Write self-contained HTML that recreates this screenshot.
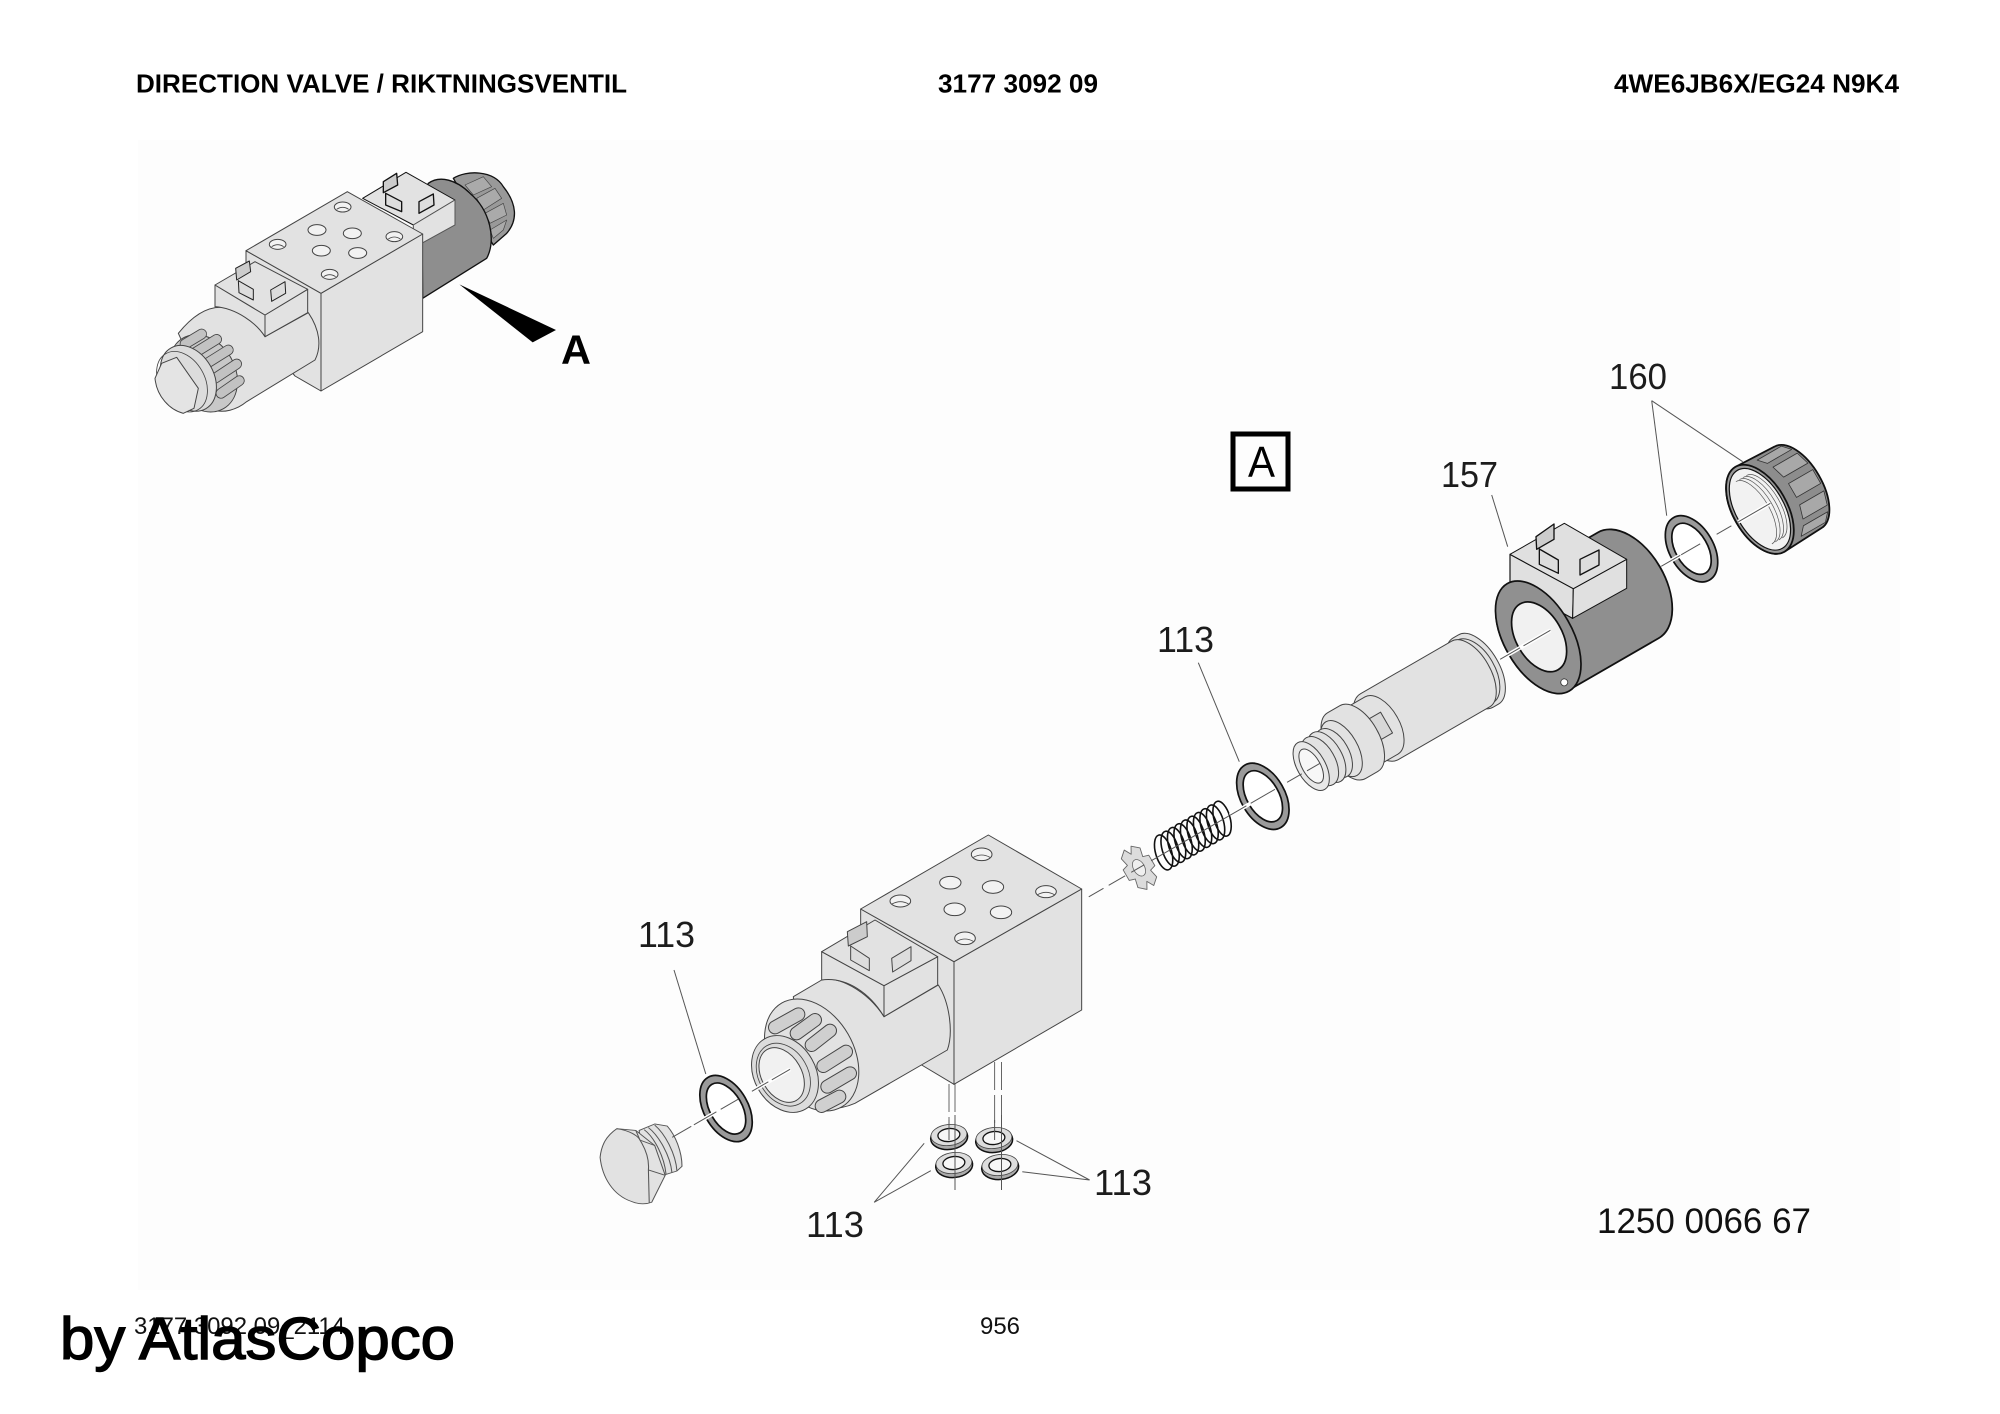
<!DOCTYPE html>
<html><head><meta charset="utf-8"><title>Direction valve</title>
<style>html,body{margin:0;padding:0;background:#fff}svg{display:block}
text{font-family:"Liberation Sans",sans-serif}</style></head>
<body>
<svg xmlns="http://www.w3.org/2000/svg" width="2000" height="1414" viewBox="0 0 2000 1414">
<rect width="2000" height="1414" fill="#fff"/>
<rect x="138" y="140" width="1762" height="1150" fill="#fdfdfd"/>

<!-- small valve -->
<g transform="translate(120,130) scale(.33333)" stroke-linejoin="round">
<path d="M1000,145 C1040,120 1120,120 1150,170 C1190,220 1195,270 1160,310 L1120,345 L1060,250 Z" fill="#999" stroke="#111" stroke-width="4"/>
<g fill="#aaa" stroke="#444" stroke-width="2"><path d="M1035,165 1090,140 1115,170 1060,195Z"/><path d="M1070,205 1125,175 1145,205 1090,240Z"/><path d="M1095,250 1150,220 1160,255 1110,280Z"/><path d="M1110,300 1160,270 1150,300 1120,325Z"/></g>
<path d="M905,200 L925,160 C960,135 1010,150 1050,190 C1110,240 1130,330 1100,385 L908,505 Z" fill="#8e8e8e" stroke="#111" stroke-width="4"/>
<g fill="#e2e2e2" stroke="#111" stroke-width="3">
<path d="M728,205 858,127 1005,210 880,285Z"/><path d="M880,285 1005,210 1005,285 905,340 880,300Z" stroke="#555"/>
<path d="M790,155 830,130 833,165 790,188Z" fill="#ccc" stroke-width="4"/><path d="M797,190 845,215 845,245 797,225Z" fill="#ddd" stroke-width="4"/><path d="M897,215 940,192 942,225 897,250Z" fill="#ddd" stroke-width="4"/>
</g>
<g fill="#e2e2e2" stroke="#444" stroke-width="3">
<path d="M378,362 603,490 603,783 525,738 378,560Z"/>
<path d="M603,490 908,312 908,605 603,783Z"/>
<path d="M378,362 682,185 908,312 603,490Z"/>
</g>
<g fill="#f2f2f2" stroke="#444" stroke-width="3">
<ellipse cx="668" cy="231" rx="25" ry="15"/><ellipse cx="591" cy="300" rx="27" ry="16"/><ellipse cx="697" cy="310" rx="27" ry="16"/><ellipse cx="823" cy="320" rx="25" ry="15"/><ellipse cx="473" cy="343" rx="25" ry="15"/><ellipse cx="604" cy="362" rx="27" ry="16"/><ellipse cx="713" cy="369" rx="27" ry="16"/><ellipse cx="629" cy="433" rx="25" ry="15"/>
</g>
<g fill="none" stroke="#444" stroke-width="2.5"><path d="M650,238 Q668,226 686,238"/><path d="M805,327 Q823,315 841,327"/><path d="M455,350 Q473,338 491,350"/><path d="M611,440 Q629,428 647,440"/></g>
<path d="M175,610 C215,560 260,528 310,532 C350,535 410,580 435,620 L565,548 C600,600 605,650 585,690 L380,815 C350,840 310,850 280,840 Z" fill="#e2e2e2" stroke="#444" stroke-width="3"/>
<g fill="#e2e2e2" stroke="#444" stroke-width="3">
<path d="M285,465 435,555 435,620 C410,580 350,535 285,530Z"/>
<path d="M435,555 563,478 563,548 435,620Z"/>
<path d="M285,465 405,395 563,478 435,555Z"/>
<path d="M347,415 388,393 392,425 350,450Z" fill="#ccc" stroke="#222"/><path d="M355,452 400,478 400,510 357,488Z" fill="#ddd" stroke="#222"/><path d="M452,480 495,455 497,490 455,514Z" fill="#ddd" stroke="#222"/>
</g>
<ellipse cx="250" cy="730" rx="122" ry="95" transform="rotate(60 250 730)" fill="#c8c8c8" stroke="#444" stroke-width="3"/>
<g stroke-linecap="round" fill="none">
<g stroke="#444" stroke-width="32"><path d="M195,642 245,612"/><path d="M225,668 290,628"/><path d="M258,702 325,660"/><path d="M285,745 350,702"/><path d="M303,790 358,752"/></g>
<g stroke="#c2c2c2" stroke-width="27"><path d="M195,642 245,612"/><path d="M225,668 290,628"/><path d="M258,702 325,660"/><path d="M285,745 350,702"/><path d="M303,790 358,752"/></g>
</g>
<ellipse cx="205" cy="745" rx="105" ry="76" transform="rotate(60 205 745)" fill="#dcdcdc" stroke="#444" stroke-width="3"/>
<ellipse cx="186" cy="755" rx="97" ry="68" transform="rotate(60 186 755)" fill="none" stroke="#444" stroke-width="2.5"/>
<path d="M125,700 L170,682 L235,775 L222,835 L190,850 C150,840 110,800 105,745 Z" fill="#e4e4e4" stroke="#444" stroke-width="3"/>
<path d="M1018,463 1308,600 1238,637Z" fill="#000"/>
</g>
<text x="561" y="363.5" font-size="41" font-weight="bold" fill="#000" textLength="30" lengthAdjust="spacingAndGlyphs">A</text>

<!-- axis frame: nut, ring, coil body -->
<g transform="translate(1320,763.3) rotate(-30)" stroke-linejoin="round">
<path d="M508,-49 A27,49 0 0 0 508,49 L552,47 A24,47 0 0 0 552,-47 Z" fill="#8d8d8d" stroke="#111" stroke-width="1.8"/>
<g fill="#a8a8a8" stroke="#333" stroke-width=".8">
<path d="M530.2,-44 558.2,-44 565.4,-36 537.4,-36Z"/><path d="M540.4,-30 568.4,-30 572.6,-16 544.6,-16Z"/><path d="M545.6,-8 573.6,-8 573.6,8 545.6,8Z"/><path d="M544.6,16 572.6,16 568.4,30 540.4,30Z"/><path d="M537.4,36 565.4,36 558.2,44 530.2,44Z"/>
</g>
<ellipse cx="508" cy="0" rx="27" ry="49" fill="#999" stroke="#111" stroke-width="1.8"/>
<ellipse cx="508" cy="0" rx="24" ry="45" fill="#f2f2f2" stroke="#111" stroke-width="1.2"/>
<g fill="none" stroke="#555" stroke-width=".7"><path d="M513,-36 A16,36 0 0 1 513,36"/><path d="M509,-36 A16,36 0 0 1 509,36"/><path d="M505,-36 A16,36 0 0 1 505,36"/><path d="M501,-36 A16,36 0 0 1 501,36"/></g>
<ellipse cx="429" cy="0" rx="22" ry="36" fill="#9a9a9a" stroke="#111" stroke-width="1.7"/>
<ellipse cx="429" cy="0" rx="16" ry="28" fill="#fff" stroke="#111" stroke-width="1.7"/>
<path d="M252,-61 A34,61 0 0 0 252,61 L356,61 A36,60 0 0 0 356,-61 Z" fill="#8f8f8f" stroke="#111" stroke-width="1.8"/>
</g>
<!-- coil connector box -->
<g transform="translate(1500,350) scale(.33333)" stroke-linejoin="round" stroke="#111" stroke-width="3.5" fill="#e0e0e0">
<path d="M30,613 220,716 218,805 30,705Z"/>
<path d="M220,716 380,628 380,715 218,805Z" stroke-width="3"/>
<path d="M30,613 193,520 380,628 220,716Z" stroke-width="3"/>
<path d="M108,560 162,522 162,568 110,598Z" fill="#ccc" stroke-width="4"/><path d="M118,597 175,630 175,670 118,643Z" fill="#ddd" stroke-width="4"/><path d="M240,628 297,600 297,645 240,675Z" fill="#ddd" stroke-width="4"/>
</g>
<g transform="translate(1320,763.3) rotate(-30)" stroke-linejoin="round">
<ellipse cx="252" cy="0" rx="34" ry="62" fill="#909090" stroke="#111" stroke-width="1.7"/>
<ellipse cx="253" cy="0" rx="23" ry="38" fill="#f1f1f1" stroke="#111" stroke-width="1.7"/>
<circle cx="252" cy="52" r="3.5" fill="#fff" stroke="#333" stroke-width=".8"/>

<!-- cartridge -->
<g transform="translate(0,-2)" fill="#e2e2e2" stroke="#444" stroke-width="1">
<path d="M178,-40 A21,40 0 0 0 178,40 L184,40 A21,40 0 0 0 184,-40Z"/>
<path d="M172,-36 A20,36 0 0 0 172,36 L180,36 A20,36 0 0 0 180,-36Z"/>
<path d="M70,-38 A21,38 0 0 0 70,38 L175,38 A20,38 0 0 0 175,-38Z"/>
<path d="M50,-33 A18,33 0 0 0 50,33 L72,33 A18,33 0 0 0 72,-33Z"/>
<path d="M63,-12 L78,-12 L78,12 L63,12Z" fill="#d8d8d8"/>
<path d="M32,-38 A20,38 0 0 0 32,38 L46,38 A20,38 0 0 0 46,-38Z"/>
<ellipse cx="26" cy="0" rx="16" ry="31"/>
<ellipse cx="17" cy="0" rx="15" ry="27"/>
<ellipse cx="9" cy="0" rx="15" ry="28"/>
<ellipse cx="1" cy="0" rx="15" ry="27"/>
<ellipse cx="-9" cy="0" rx="14" ry="27" fill="#e8e8e8"/>
<ellipse cx="-9" cy="0" rx="9" ry="19" fill="#f7f7f7"/>
</g>
<!-- ring 113 -->
<ellipse cx="-66" cy="0" rx="22" ry="36" fill="#9a9a9a" stroke="#111" stroke-width="1.7"/>
<ellipse cx="-66" cy="0" rx="16" ry="28" fill="#fff" stroke="#111" stroke-width="1.7"/>
<!-- spring -->
<g fill="none" stroke="#111" stroke-width="1.6">
<ellipse cx="-180" cy="-1" rx="8" ry="18" transform="rotate(14 -180 -1)"/>
<ellipse cx="-172.5" cy="-1" rx="8" ry="18" transform="rotate(14 -172.5 -1)"/>
<ellipse cx="-165" cy="-1" rx="8" ry="18" transform="rotate(14 -165 -1)"/>
<ellipse cx="-157.5" cy="-1" rx="8" ry="18" transform="rotate(14 -157.5 -1)"/>
<ellipse cx="-150" cy="-1" rx="8" ry="18" transform="rotate(14 -150 -1)"/>
<ellipse cx="-142.5" cy="-1" rx="8" ry="18" transform="rotate(14 -142.5 -1)"/>
<ellipse cx="-135" cy="-1" rx="8" ry="18" transform="rotate(14 -135 -1)"/>
<ellipse cx="-127.5" cy="-1" rx="8" ry="18" transform="rotate(14 -127.5 -1)"/>
<ellipse cx="-120" cy="-1" rx="8" ry="18" transform="rotate(14 -120 -1)"/>
<ellipse cx="-112.5" cy="-1" rx="8" ry="18" transform="rotate(14 -112.5 -1)"/>
</g>
<!-- star washer -->
<g transform="translate(-209,0) scale(1.12)">
<path d="M13.2,-5.4 13.2,5.4 7.9,7 9.65,14.85 3.5,20.3 0,14 -3.5,20.3 -9.65,14.85 -7.9,7 -13.2,5.4 -13.2,-5.4 -7.9,-7 -9.65,-14.85 -3.5,-20.3 0,-14 3.5,-20.3 9.65,-14.85 7.9,-7Z" fill="#dcdcdc" stroke="#666" stroke-width=".8"/>
<ellipse rx="5" ry="8" fill="#efefef" stroke="#666" stroke-width=".7"/>
</g>
<!-- plug ring -->
<ellipse cx="-687" cy="2" rx="22" ry="36" fill="#9a9a9a" stroke="#111" stroke-width="1.7"/>
<ellipse cx="-687" cy="2" rx="16" ry="28" fill="#fff" stroke="#111" stroke-width="1.7"/>
</g>
<!-- plug -->
<g transform="translate(577,1033.5) scale(.42,.359)" stroke-linejoin="round" stroke="#555" stroke-width="2.5" fill="#e2e2e2">
<path d="M148,270 L185,252 L215,258 C235,285 250,330 250,370 L238,383 L205,395 L150,290Z"/>
<g fill="none"><path d="M170,262 C195,285 222,340 226,387"/><path d="M185,255 C210,280 235,335 238,383"/><path d="M160,268 C185,290 208,345 212,392"/></g>
<path d="M95,265 L140,270 L185,312 L210,395 L178,470 Q155,480 130,468 C85,450 60,400 55,345 C58,310 70,285 95,265 Z"/>
<path d="M95,265 C125,270 145,285 150,297 C165,325 172,355 170,380 L172,472" fill="none"/>
<path d="M140,270 L150,297 L185,312 M170,380 L210,395" fill="none"/>
</g>

<!-- big valve block -->
<g transform="translate(740,820) scale(.33333)" stroke-linejoin="round" stroke="#444" stroke-width="3" fill="#e2e2e2">
<path d="M362,267 642,425 642,793 545,735 362,600Z"/>
<path d="M642,425 1025,207 1025,570 642,793Z"/>
<path d="M362,267 745,45 1025,207 642,425Z"/>
<g fill="#f2f2f2">
<ellipse cx="725" cy="103" rx="31" ry="19"/><ellipse cx="631" cy="188" rx="32" ry="19"/><ellipse cx="759" cy="201" rx="32" ry="19"/><ellipse cx="918" cy="215" rx="31" ry="18"/><ellipse cx="481" cy="243" rx="31" ry="18"/><ellipse cx="644" cy="268" rx="32" ry="19"/><ellipse cx="783" cy="277" rx="32" ry="19"/><ellipse cx="675" cy="355" rx="31" ry="19"/>
</g>
<g fill="none" stroke-width="2.5"><path d="M700,112 Q725,98 750,112"/><path d="M893,224 Q918,210 943,224"/><path d="M456,252 Q481,238 506,252"/><path d="M650,364 Q675,350 700,364"/></g>
<path d="M160,530 L245,480 C290,465 380,510 432,590 L595,495 C630,550 640,640 622,690 L345,850 C300,870 250,870 200,860 Z"/>
<path d="M245,395 432,497 432,590 C390,520 320,470 245,480Z"/>
<path d="M432,497 593,410 593,495 432,590Z"/>
<path d="M245,395 405,300 593,410 432,497Z"/>
<path d="M322,335 380,305 382,350 325,378Z" fill="#ccc"/><path d="M332,378 388,415 388,452 332,420Z" fill="#ddd"/><path d="M455,415 513,380 513,422 458,456Z" fill="#ddd"/>
<ellipse cx="215" cy="705" rx="180" ry="126" transform="rotate(60 215 705)"/>
<g fill="none" stroke-linecap="round">
<g stroke="#444" stroke-width="42"><path d="M105,622 175,583"/><path d="M170,640 225,600"/><path d="M215,675 270,632"/><path d="M250,738 318,695"/><path d="M262,800 330,760"/><path d="M245,858 298,830"/></g>
<g stroke="#cfcfcf" stroke-width="36"><path d="M105,622 175,583"/><path d="M170,640 225,600"/><path d="M215,675 270,632"/><path d="M250,738 318,695"/><path d="M262,800 330,760"/><path d="M245,858 298,830"/></g>
</g>
<ellipse cx="135" cy="762" rx="122" ry="92" transform="rotate(60 135 762)" fill="#dcdcdc"/>
<ellipse cx="130" cy="764" rx="100" ry="74" transform="rotate(60 130 764)" fill="none" stroke-width="2.5"/>
<ellipse cx="125" cy="765" rx="88" ry="60" transform="rotate(60 125 765)" fill="#f1f1f1"/>
</g>

<!-- vertical dashes -->
<g stroke="#666" stroke-width="1" fill="none" stroke-dasharray="28 5">
<path d="M949,1084 V1135"/><path d="M955,1084 V1135"/><path d="M994.6,1062 V1135"/><path d="M1001.5,1062 V1135"/>
</g>
<!-- small washers -->
<g transform="translate(949,1136) rotate(-6)"><ellipse cy="1.5" rx="18.5" ry="12" fill="#aaa" stroke="#111" stroke-width="1.5"/><ellipse cy="-1" rx="18" ry="10.5" fill="#ddd" stroke="#444" stroke-width=".8"/><ellipse cy="-1" rx="11" ry="6.5" fill="#f7f7f7" stroke="#111" stroke-width="1.3"/></g>
<g transform="translate(954,1164) rotate(-6)"><ellipse cy="1.5" rx="18.5" ry="12" fill="#aaa" stroke="#111" stroke-width="1.5"/><ellipse cy="-1" rx="18" ry="10.5" fill="#ddd" stroke="#444" stroke-width=".8"/><ellipse cy="-1" rx="11" ry="6.5" fill="#f7f7f7" stroke="#111" stroke-width="1.3"/></g>
<g transform="translate(994,1139) rotate(-6)"><ellipse cy="1.5" rx="18.5" ry="12" fill="#aaa" stroke="#111" stroke-width="1.5"/><ellipse cy="-1" rx="18" ry="10.5" fill="#ddd" stroke="#444" stroke-width=".8"/><ellipse cy="-1" rx="11" ry="6.5" fill="#f7f7f7" stroke="#111" stroke-width="1.3"/></g>
<g transform="translate(1000,1166) rotate(-6)"><ellipse cy="1.5" rx="18.5" ry="12" fill="#aaa" stroke="#111" stroke-width="1.5"/><ellipse cy="-1" rx="18" ry="10.5" fill="#ddd" stroke="#444" stroke-width=".8"/><ellipse cy="-1" rx="11" ry="6.5" fill="#f7f7f7" stroke="#111" stroke-width="1.3"/></g>
<g stroke="#555" stroke-width="1" fill="none">
<path d="M955,1115 V1190"/><path d="M1001.5,1115 V1190"/>
<path d="M949,1120 V1140"/><path d="M994.6,1120 V1140"/>
</g>

<!-- axis dashes -->
<g transform="translate(1320,763.3) rotate(-30)" fill="none">
<g stroke="#fff" stroke-width="4">
<path d="M208,0H266"/><path d="M394,0H439"/><path d="M483,0H520"/><path d="M-104,0H-52"/><path d="M-723,0H-680"/><path d="M-656,0H-612"/>
</g>
<g stroke="#555" stroke-width="1">
<path d="M-748,0H-726"/><path d="M-723,0H-697"/><path d="M-692,0H-672"/><path d="M-656,0H-637"/><path d="M-633,0H-612"/>
<path d="M-267,0H-250"/><path d="M-244,0H-225"/><path d="M-218,0H-203"/><path d="M-195,0H-105"/><path d="M-104,0H-85"/><path d="M-80,0H-52"/><path d="M-38,0H-21"/><path d="M-15,0H0"/>
<path d="M208,0H231"/><path d="M235,0H266"/><path d="M394,0H416"/><path d="M417,0H439"/><path d="M458,0H475"/><path d="M483,0H520"/>
</g>
</g>

<!-- leaders -->
<g stroke="#555" stroke-width="1" fill="none">
<path d="M1651.7,400.7 L1666.7,515.7"/><path d="M1651.7,400.7 L1742.7,461.7"/>
<path d="M1491.7,495 L1507.7,546.7"/>
<path d="M1198.3,662.7 L1239.3,761.7"/>
<path d="M674,970 L705.8,1074"/>
<path d="M924.2,1143.3 L874.2,1202.3 L930.8,1170.7"/>
<path d="M1016.5,1140.7 L1089.6,1180 L1022.3,1171.7"/>
</g>

<!-- part labels -->
<g font-size="36" fill="#1c1c1c">
<text x="1609" y="389" textLength="58" lengthAdjust="spacingAndGlyphs">160</text>
<text x="1441" y="487" textLength="57" lengthAdjust="spacingAndGlyphs">157</text>
<text x="1157" y="652" textLength="57" lengthAdjust="spacingAndGlyphs">113</text>
<text x="638" y="947" textLength="57" lengthAdjust="spacingAndGlyphs">113</text>
<text x="806" y="1237" textLength="58" lengthAdjust="spacingAndGlyphs">113</text>
<text x="1094" y="1195" textLength="58" lengthAdjust="spacingAndGlyphs">113</text>
</g>
<text x="1597" y="1233" font-size="35" fill="#111" textLength="214" lengthAdjust="spacingAndGlyphs">1250 0066 67</text>

<!-- box A -->
<rect x="1233" y="434" width="55" height="55" fill="none" stroke="#000" stroke-width="5"/>
<text x="1248" y="477" font-size="44" fill="#000" textLength="27" lengthAdjust="spacingAndGlyphs">A</text>

<!-- headers -->
<g font-size="26" font-weight="bold" fill="#000">
<text x="136" y="92.5" textLength="491" lengthAdjust="spacingAndGlyphs">DIRECTION VALVE / RIKTNINGSVENTIL</text>
<text x="938" y="92.5" textLength="160" lengthAdjust="spacingAndGlyphs">3177 3092 09</text>
<text x="1619" y="92.5" textLength="285" lengthAdjust="spacingAndGlyphs" dx="-5">4WE6JB6X/EG24 N9K4</text>
</g>

<!-- footer -->
<text x="134" y="1334" font-size="24" fill="#111" textLength="211" lengthAdjust="spacingAndGlyphs">3177 3092 09_2114</text>
<text x="980" y="1334" font-size="24" fill="#111" textLength="40" lengthAdjust="spacingAndGlyphs">956</text>
<text x="60" y="1359" font-size="59" fill="#000" stroke="#000" stroke-width="1.4" textLength="395" lengthAdjust="spacingAndGlyphs">by AtlasCopco</text>
</svg>
</body></html>
